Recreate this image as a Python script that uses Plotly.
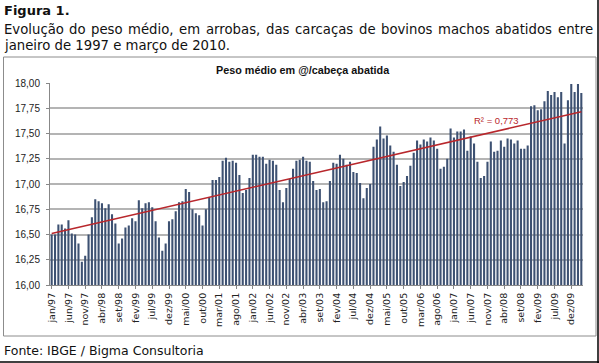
import numpy as np
import plotly.graph_objects as go

month_abbr = ["jan", "fev", "mar", "abr", "mai", "jun", "jul", "ago", "set", "out", "nov", "dez"]
years = list(range(1997, 2011))

# monthly average carcass weight (@/head), jan/1997 .. mar/2010
peso = [
    16.50, 16.50, 16.60, 16.60, 16.56, 16.64, 16.51, 16.50, 16.41, 16.23, 16.29, 16.50,  # 1997
    16.67, 16.85, 16.83, 16.81, 16.76, 16.80, 16.70, 16.61, 16.41, 16.46, 16.57, 16.59,  # 1998
    16.66, 16.63, 16.84, 16.76, 16.81, 16.82, 16.77, 16.63, 16.47, 16.34, 16.41, 16.63,  # 1999
    16.65, 16.73, 16.82, 16.83, 16.95, 16.92, 16.75, 16.71, 16.69, 16.59, 16.75, 16.87,  # 2000
    17.04, 17.04, 17.07, 17.23, 17.26, 17.22, 17.23, 17.21, 17.09, 16.91, 16.94, 17.06,  # 2001
    17.29, 17.29, 17.27, 17.27, 17.20, 17.24, 17.23, 17.19, 16.94, 16.82, 16.96, 17.05,  # 2002
    17.15, 17.23, 17.24, 17.27, 17.23, 17.22, 17.03, 16.94, 16.95, 16.82, 16.83, 17.03,  # 2003
    17.21, 17.20, 17.29, 17.25, 17.19, 17.22, 17.12, 17.11, 17.01, 16.86, 16.96, 17.00,  # 2004
    17.37, 17.44, 17.57, 17.45, 17.48, 17.38, 17.32, 17.19, 16.98, 17.02, 17.08, 17.18,  # 2005
    17.31, 17.43, 17.39, 17.44, 17.42, 17.46, 17.43, 17.35, 17.15, 17.17, 17.25, 17.55,  # 2006
    17.46, 17.52, 17.52, 17.54, 17.33, 17.47, 17.40, 17.22, 17.06, 17.08, 17.22, 17.42,  # 2007
    17.32, 17.33, 17.43, 17.37, 17.45, 17.44, 17.40, 17.43, 17.35, 17.35, 17.38, 17.77,  # 2008
    17.78, 17.73, 17.74, 17.82, 17.92, 17.88, 17.91, 17.86, 17.91, 17.40, 17.83, 17.99,  # 2009
    17.91, 17.99, 17.90,                                                                  # 2010
]
r2_text = "R² = 0,773"
fig_label = "Figura 1."
caption_line1 = "Evolução do peso médio, em arrobas, das carcaças de bovinos machos abatidos entre"
caption_line2 = "janeiro de 1997 e março de 2010."
chart_title = "Peso médio em @/cabeça abatida"
source_text = "Fonte: IBGE / Bigma Consultoria"

n = len(peso)
labels = []
for y in years:
    for m in month_abbr:
        labels.append(f"{m}/{str(y)[2:]}")
labels = labels[:n]
idx = list(range(n))
tick_idx = idx[::5]
tick_txt = [labels[i] for i in tick_idx]

coef = np.polyfit(idx, peso, 1)
trend = np.polyval(coef, [0, n - 1])

# plot area in pixels
L, R, T, B = 50, 583, 83, 285
W, H = 599, 363
def X(px):
    return (px - L) / (R - L)
def Y(py):
    return (B - py) / (B - T)

BAR_COLOR = "#3d5172"
TREND_COLOR = "#b8272c"

fig = go.Figure()
fig.add_trace(go.Bar(x=idx, y=peso, marker=dict(color=BAR_COLOR, line=dict(width=0)),
                     hovertext=labels, showlegend=False))
fig.add_trace(go.Scatter(x=[0, n - 1], y=list(trend), mode="lines",
                         line=dict(color=TREND_COLOR, width=1.5), showlegend=False))

fig.update_layout(
    width=W, height=H,
    margin=dict(l=L, r=W - R, t=T, b=H - B, pad=0),
    paper_bgcolor="white", plot_bgcolor="white",
    bargap=0.38,
    font=dict(family="DejaVu Sans", color="#222"),
    separators=",.",
    xaxis=dict(range=[-0.5, n - 0.5], tickmode="array", tickvals=tick_idx, ticktext=tick_txt,
               tickangle=-90, tickfont=dict(size=9.5, family="DejaVu Sans", color="#222"),
               showgrid=False, showline=True, linecolor="#888", linewidth=1,
               ticks="outside", ticklen=3, tickcolor="#888", zeroline=False),
    yaxis=dict(range=[16, 18], dtick=0.25, tickformat=".2f",
               tickfont=dict(size=10, family="Liberation Sans", color="#222"),
               showgrid=True, gridcolor="#b4b4b4", gridwidth=1.5,
               showline=True, linecolor="#888", linewidth=1,
               ticks="outside", ticklen=3, tickcolor="#888", zeroline=False,
               ticklabelstandoff=4),
)

shapes = [
    dict(type="rect", xref="paper", yref="paper", x0=X(3.5), x1=X(596), y0=Y(57), y1=Y(336),
         line=dict(color="#8c8c8c", width=1), layer="below"),
    dict(type="line", xref="paper", yref="paper", x0=X(0), x1=X(599), y0=Y(362), y1=Y(362),
         line=dict(color="black", width=1.5)),
    dict(type="line", xref="paper", yref="paper", x0=X(598), x1=X(598), y0=Y(0), y1=Y(363),
         line=dict(color="black", width=1.5)),
]
fig.update_layout(shapes=shapes)

# DejaVu Sans advance widths (units per em = 2048) used to justify the caption line
ADV = {" ": 651, "E": 1294, "v": 1212, "o": 1253, "l": 569, "u": 1298, "ç": 1126, "ã": 1255,
       "d": 1300, "p": 1300, "e": 1260, "s": 1067, "m": 1995, "é": 1260, "i": 569, ",": 651,
       "a": 1255, "r": 842, "b": 1300, "c": 1126, "g": 1300, "n": 1298, "h": 1298, "t": 803}
CAP_SIZE = 13.25
def text_w(s):
    return sum(ADV.get(c, 1200) for c in s) / 2048 * CAP_SIZE

cap_font = dict(size=CAP_SIZE, family="DejaVu Sans", color="#111")
ann = [
    dict(text=f"<b>{fig_label}</b>", x=X(2), y=Y(11), xanchor="left", yanchor="middle",
         font=dict(size=13, family="DejaVu Sans", color="#111")),
    dict(text=caption_line2, x=X(2), y=Y(45), xanchor="left", yanchor="middle", font=cap_font),
    dict(text=f"<b>{chart_title}</b>", x=X(303), y=Y(70), xanchor="center",
         yanchor="middle", font=dict(size=10.8, family="Liberation Sans", color="#111")),
    dict(text=r2_text, x=X(496), y=Y(121), xanchor="center", yanchor="middle",
         font=dict(size=9.5, family="Liberation Sans", color=TREND_COLOR)),
    dict(text=source_text, x=X(2), y=Y(350), xanchor="left", yanchor="middle",
         font=dict(size=12.5, family="DejaVu Sans", color="#111")),
]
# justified first caption line: one annotation per word
words = caption_line1.split(" ")
left_px, right_px = 2, 591
gap = (right_px - left_px - sum(text_w(w) for w in words)) / (len(words) - 1)
xpos = left_px
for w in words:
    ann.append(dict(text=w, x=X(xpos), y=Y(29), xanchor="left", yanchor="middle", font=cap_font))
    xpos += text_w(w) + gap

for a in ann:
    a.update(xref="paper", yref="paper", showarrow=False)
fig.update_layout(annotations=ann)

fig.write_html("out.html", config={"displayModeBar": False},
               post_script="document.body.style.margin='0px';")
